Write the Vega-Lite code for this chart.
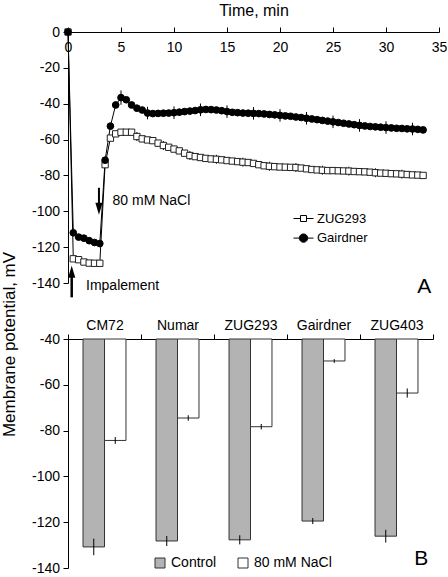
{
  "$schema": "https://vega.github.io/schema/vega-lite/v6.json",
  "padding": {"left": 0, "top": 2, "right": 0, "bottom": 0},
  "bounds": "flush",
  "spacing": 56,
  "resolve": {"scale": {"fill": "independent", "shape": "independent", "stroke": "independent"}, "legend": {"fill": "independent", "shape": "independent", "stroke": "independent"}},
  "datasets": {
    "series": [
      {"series": "ZUG293", "t": 0, "v": 0},
      {"series": "ZUG293", "t": 0.5, "v": -126.5},
      {"series": "ZUG293", "t": 1, "v": -127},
      {"series": "ZUG293", "t": 1.5, "v": -128.3},
      {"series": "ZUG293", "t": 2, "v": -128.9},
      {"series": "ZUG293", "t": 2.5, "v": -129},
      {"series": "ZUG293", "t": 3, "v": -129},
      {"series": "ZUG293", "t": 3.5, "v": -74},
      {"series": "ZUG293", "t": 4, "v": -59.2},
      {"series": "ZUG293", "t": 4.5, "v": -56.8},
      {"series": "ZUG293", "t": 5, "v": -55.9},
      {"series": "ZUG293", "t": 5.5, "v": -55.9},
      {"series": "ZUG293", "t": 6, "v": -55.9},
      {"series": "ZUG293", "t": 6.5, "v": -58.3, "err": 2.5},
      {"series": "ZUG293", "t": 7, "v": -59.6},
      {"series": "ZUG293", "t": 7.5, "v": -60.2},
      {"series": "ZUG293", "t": 8, "v": -60.6},
      {"series": "ZUG293", "t": 8.5, "v": -62},
      {"series": "ZUG293", "t": 9, "v": -63.3, "err": 2.5},
      {"series": "ZUG293", "t": 9.5, "v": -64.3},
      {"series": "ZUG293", "t": 10, "v": -65.3},
      {"series": "ZUG293", "t": 10.5, "v": -66.3},
      {"series": "ZUG293", "t": 11, "v": -67.6},
      {"series": "ZUG293", "t": 11.5, "v": -68.9, "err": 2.5},
      {"series": "ZUG293", "t": 12, "v": -69.5},
      {"series": "ZUG293", "t": 12.5, "v": -70},
      {"series": "ZUG293", "t": 13, "v": -70.5},
      {"series": "ZUG293", "t": 13.5, "v": -70.8},
      {"series": "ZUG293", "t": 14, "v": -71, "err": 2.5},
      {"series": "ZUG293", "t": 14.5, "v": -71.3},
      {"series": "ZUG293", "t": 15, "v": -71.7},
      {"series": "ZUG293", "t": 15.5, "v": -72},
      {"series": "ZUG293", "t": 16, "v": -72.3},
      {"series": "ZUG293", "t": 16.5, "v": -72.6, "err": 2.5},
      {"series": "ZUG293", "t": 17, "v": -72.8},
      {"series": "ZUG293", "t": 17.5, "v": -73.3},
      {"series": "ZUG293", "t": 18, "v": -74},
      {"series": "ZUG293", "t": 18.5, "v": -74.6},
      {"series": "ZUG293", "t": 19, "v": -74.9, "err": 2.5},
      {"series": "ZUG293", "t": 19.5, "v": -75.1},
      {"series": "ZUG293", "t": 20, "v": -75.3},
      {"series": "ZUG293", "t": 20.5, "v": -75.4},
      {"series": "ZUG293", "t": 21, "v": -75.5},
      {"series": "ZUG293", "t": 21.5, "v": -75.6, "err": 2.5},
      {"series": "ZUG293", "t": 22, "v": -75.9},
      {"series": "ZUG293", "t": 22.5, "v": -76.3},
      {"series": "ZUG293", "t": 23, "v": -76.7},
      {"series": "ZUG293", "t": 23.5, "v": -76.9},
      {"series": "ZUG293", "t": 24, "v": -77.1, "err": 2.5},
      {"series": "ZUG293", "t": 24.5, "v": -77.3},
      {"series": "ZUG293", "t": 25, "v": -77.3},
      {"series": "ZUG293", "t": 25.5, "v": -77.4},
      {"series": "ZUG293", "t": 26, "v": -77.5},
      {"series": "ZUG293", "t": 26.5, "v": -77.6, "err": 2.5},
      {"series": "ZUG293", "t": 27, "v": -77.8},
      {"series": "ZUG293", "t": 27.5, "v": -77.9},
      {"series": "ZUG293", "t": 28, "v": -78},
      {"series": "ZUG293", "t": 28.5, "v": -78.2},
      {"series": "ZUG293", "t": 29, "v": -78.5, "err": 2.5},
      {"series": "ZUG293", "t": 29.5, "v": -78.7},
      {"series": "ZUG293", "t": 30, "v": -78.8},
      {"series": "ZUG293", "t": 30.5, "v": -79},
      {"series": "ZUG293", "t": 31, "v": -79.1},
      {"series": "ZUG293", "t": 31.5, "v": -79.3, "err": 2.5},
      {"series": "ZUG293", "t": 32, "v": -79.5},
      {"series": "ZUG293", "t": 32.5, "v": -79.7},
      {"series": "ZUG293", "t": 33, "v": -79.8},
      {"series": "ZUG293", "t": 33.5, "v": -80},
      {"series": "Gairdner", "t": 0, "v": 0},
      {"series": "Gairdner", "t": 0.5, "v": -112},
      {"series": "Gairdner", "t": 1, "v": -114.4},
      {"series": "Gairdner", "t": 1.5, "v": -115},
      {"series": "Gairdner", "t": 2, "v": -116.4},
      {"series": "Gairdner", "t": 2.5, "v": -117.4},
      {"series": "Gairdner", "t": 3, "v": -118},
      {"series": "Gairdner", "t": 3.5, "v": -71.5},
      {"series": "Gairdner", "t": 4, "v": -52.5},
      {"series": "Gairdner", "t": 4.5, "v": -40.7},
      {"series": "Gairdner", "t": 5, "v": -36.6, "err": 4},
      {"series": "Gairdner", "t": 5.5, "v": -37.8},
      {"series": "Gairdner", "t": 6, "v": -40.7},
      {"series": "Gairdner", "t": 6.5, "v": -42.5},
      {"series": "Gairdner", "t": 7, "v": -43.5},
      {"series": "Gairdner", "t": 7.5, "v": -45.2, "err": 3.5},
      {"series": "Gairdner", "t": 8, "v": -45.5},
      {"series": "Gairdner", "t": 8.5, "v": -45.4},
      {"series": "Gairdner", "t": 9, "v": -45.3},
      {"series": "Gairdner", "t": 9.5, "v": -45.2},
      {"series": "Gairdner", "t": 10, "v": -45, "err": 3.5},
      {"series": "Gairdner", "t": 10.5, "v": -44.7},
      {"series": "Gairdner", "t": 11, "v": -44.4},
      {"series": "Gairdner", "t": 11.5, "v": -44.1},
      {"series": "Gairdner", "t": 12, "v": -43.8},
      {"series": "Gairdner", "t": 12.5, "v": -43.4, "err": 3.5},
      {"series": "Gairdner", "t": 13, "v": -43.2},
      {"series": "Gairdner", "t": 13.5, "v": -43.3},
      {"series": "Gairdner", "t": 14, "v": -43.5},
      {"series": "Gairdner", "t": 14.5, "v": -43.9},
      {"series": "Gairdner", "t": 15, "v": -44.4, "err": 3.5},
      {"series": "Gairdner", "t": 15.5, "v": -44.8},
      {"series": "Gairdner", "t": 16, "v": -45},
      {"series": "Gairdner", "t": 16.5, "v": -45.2},
      {"series": "Gairdner", "t": 17, "v": -45.3},
      {"series": "Gairdner", "t": 17.5, "v": -45.4, "err": 3.5},
      {"series": "Gairdner", "t": 18, "v": -45.5},
      {"series": "Gairdner", "t": 18.5, "v": -45.7},
      {"series": "Gairdner", "t": 19, "v": -46},
      {"series": "Gairdner", "t": 19.5, "v": -46.2},
      {"series": "Gairdner", "t": 20, "v": -46.5, "err": 3.5},
      {"series": "Gairdner", "t": 20.5, "v": -46.8},
      {"series": "Gairdner", "t": 21, "v": -47},
      {"series": "Gairdner", "t": 21.5, "v": -47.4},
      {"series": "Gairdner", "t": 22, "v": -47.7},
      {"series": "Gairdner", "t": 22.5, "v": -48.1, "err": 3.5},
      {"series": "Gairdner", "t": 23, "v": -48.5},
      {"series": "Gairdner", "t": 23.5, "v": -48.9},
      {"series": "Gairdner", "t": 24, "v": -49.3},
      {"series": "Gairdner", "t": 24.5, "v": -49.7},
      {"series": "Gairdner", "t": 25, "v": -50.1, "err": 3.5},
      {"series": "Gairdner", "t": 25.5, "v": -50.5},
      {"series": "Gairdner", "t": 26, "v": -50.9},
      {"series": "Gairdner", "t": 26.5, "v": -51.3},
      {"series": "Gairdner", "t": 27, "v": -51.7},
      {"series": "Gairdner", "t": 27.5, "v": -52.1, "err": 3.5},
      {"series": "Gairdner", "t": 28, "v": -52.4},
      {"series": "Gairdner", "t": 28.5, "v": -52.7},
      {"series": "Gairdner", "t": 29, "v": -52.9},
      {"series": "Gairdner", "t": 29.5, "v": -53.1},
      {"series": "Gairdner", "t": 30, "v": -53.3, "err": 3.5},
      {"series": "Gairdner", "t": 30.5, "v": -53.5},
      {"series": "Gairdner", "t": 31, "v": -53.7},
      {"series": "Gairdner", "t": 31.5, "v": -53.8},
      {"series": "Gairdner", "t": 32, "v": -54},
      {"series": "Gairdner", "t": 32.5, "v": -54.1, "err": 3.5},
      {"series": "Gairdner", "t": 33, "v": -54.3},
      {"series": "Gairdner", "t": 33.5, "v": -54.6}
    ],
    "bars": [
      {"cultivar": "CM72", "treatment": "Control", "mean": -130.8, "err": 3.6},
      {"cultivar": "CM72", "treatment": "80 mM NaCl", "mean": -84.3, "err": 1.5},
      {"cultivar": "Numar", "treatment": "Control", "mean": -128.2, "err": 2.2},
      {"cultivar": "Numar", "treatment": "80 mM NaCl", "mean": -74.5, "err": 1.2},
      {"cultivar": "ZUG293", "treatment": "Control", "mean": -127.7, "err": 2},
      {"cultivar": "ZUG293", "treatment": "80 mM NaCl", "mean": -78.3, "err": 1.2},
      {"cultivar": "Gairdner", "treatment": "Control", "mean": -119.5, "err": 1.3},
      {"cultivar": "Gairdner", "treatment": "80 mM NaCl", "mean": -49.6, "err": 0.8},
      {"cultivar": "ZUG403", "treatment": "Control", "mean": -126.1, "err": 2.8},
      {"cultivar": "ZUG403", "treatment": "80 mM NaCl", "mean": -63.6, "err": 2}
    ]
  },
  "vconcat": [
    {
      "width": 371,
      "height": 251,
      "data": {"name": "series"},
      "encoding": {
        "x": {
          "field": "t", "type": "quantitative",
          "scale": {"domain": [0, 35], "nice": false},
          "axis": {
            "orient": "top", "values": [0, 5, 10, 15, 20, 25, 30, 35],
            "title": "Time, min", "titleFontSize": 16, "titlePadding": 8,
            "labelBaseline": "top", "labelPadding": -13, "labelFlush": false,
            "labelOverlap": false
          }
        },
        "y": {
          "field": "v", "type": "quantitative",
          "scale": {"domain": [-140, 0], "nice": false},
          "axis": {
            "values": [-140, -120, -100, -80, -60, -40, -20, 0],
            "labelExpr": "datum.value < 0 ? '-' + abs(datum.value) : '' + datum.value",
            "title": "Membrane potential, mV", "titleFontSize": 17,
            "titleY": 312, "titleX": -50, "labelPadding": 3.5,
            "labelOverlap": false
          }
        }
      },
      "layer": [
        {
          "mark": {"type": "line", "color": "black", "strokeWidth": 1},
          "encoding": {"detail": {"field": "series", "type": "nominal"}}
        },
        {
          "transform": [{"filter": "datum.err != null"}],
          "mark": {"type": "errorbar", "color": "black", "thickness": 1},
          "encoding": {"yError": {"field": "err"}, "detail": {"field": "series", "type": "nominal"}}
        },
        {
          "transform": [{"filter": "datum.series === 'ZUG293'"}],
          "mark": {"type": "point", "shape": "square", "filled": true, "fill": "white", "opacity": 1, "stroke": "#222222", "strokeWidth": 1, "size": 40}
        },
        {
          "transform": [{"filter": "datum.series === 'Gairdner'"}],
          "mark": {"type": "point", "shape": "circle", "filled": true, "fill": "black", "opacity": 1, "stroke": "black", "strokeWidth": 1, "size": 45}
        },
        {
          "mark": {"type": "point", "filled": false, "opacity": 0, "strokeWidth": 1},
          "encoding": {
            "shape": {
              "field": "series", "type": "nominal",
              "scale": {"domain": ["ZUG293", "Gairdner"], "range": ["M-1,0L-0.3,0M0.3,0L1,0M-0.3,-0.3L0.3,-0.3L0.3,0.3L-0.3,0.3Z", "M-1,0L-0.42,0M0.42,0L1,0M-0.42,0A0.42,0.42,0,1,0,0.42,0A0.42,0.42,0,1,0,-0.42,0Z"]},
              "legend": {
                "title": null, "orient": "none", "legendX": 225, "legendY": 176,
                "symbolSize": 400, "symbolOpacity": 1, "symbolStrokeWidth": 1,
                "labelFontSize": 13, "labelOffset": 3, "rowPadding": 1.6
              }
            },
            "fill": {
              "field": "series", "type": "nominal",
              "scale": {"domain": ["ZUG293", "Gairdner"], "range": ["white", "black"]},
              "legend": {
                "title": null, "orient": "none", "legendX": 225, "legendY": 176,
                "symbolSize": 400, "symbolOpacity": 1, "symbolStrokeWidth": 1,
                "labelFontSize": 13, "labelOffset": 3, "rowPadding": 1.6
              }
            },
            "stroke": {
              "field": "series", "type": "nominal",
              "scale": {"domain": ["ZUG293", "Gairdner"], "range": ["black", "black"]},
              "legend": {
                "title": null, "orient": "none", "legendX": 225, "legendY": 176,
                "symbolSize": 400, "symbolOpacity": 1, "symbolStrokeWidth": 1,
                "labelFontSize": 13, "labelOffset": 3, "rowPadding": 1.6
              }
            }
          }
        },
        {
          "data": {"values": [{"t": 2.92, "v": -86.9, "v2": -96}]},
          "mark": {"type": "rule", "color": "black", "strokeWidth": 2},
          "encoding": {"y2": {"field": "v2"}}
        },
        {
          "data": {"values": [{"t": 2.92, "v": -98.6}]},
          "mark": {"type": "point", "filled": true, "color": "black", "opacity": 1, "size": 144, "shape": "M-0.6,-1L0.6,-1L0,1Z"}
        },
        {
          "data": {"values": [{"t": 0.35, "v": -136, "v2": -148}]},
          "mark": {"type": "rule", "color": "black", "strokeWidth": 2.5},
          "encoding": {"y2": {"field": "v2"}}
        },
        {
          "data": {"values": [{"t": 0.35, "v": -133.7}]},
          "mark": {"type": "point", "filled": true, "color": "black", "opacity": 1, "size": 144, "shape": "M-0.6,1L0.6,1L0,-1Z"}
        },
        {
          "data": {"values": [{"label": "80 mM NaCl", "t": 4.2, "v": -94.2}, {"label": "Impalement", "t": 1.7, "v": -141.5}]},
          "mark": {"type": "text", "align": "left", "baseline": "middle", "fontSize": 14},
          "encoding": {"text": {"field": "label"}}
        },
        {
          "data": {"values": [{"label": "A", "t": 33.6, "v": -145.4}]},
          "mark": {"type": "text", "align": "center", "baseline": "alphabetic", "fontSize": 21},
          "encoding": {"text": {"field": "label"}}
        }
      ]
    },
    {
      "width": 365,
      "height": 229,
      "layer": [
        {
          "data": {"name": "bars"},
          "encoding": {
            "x": {
              "field": "cultivar", "type": "nominal",
              "scale": {"domain": ["CM72", "Numar", "ZUG293", "Gairdner", "ZUG403"], "paddingInner": 0, "paddingOuter": 0},
              "axis": {"orient": "top", "title": null, "tickBand": "extent", "labelAngle": 0, "labelPadding": 2, "labelFontSize": 14}
            },
            "y": {
              "field": "mean", "type": "quantitative",
              "scale": {"domain": [-140, -40], "nice": false},
              "axis": {
                "values": [-140, -120, -100, -80, -60, -40],
                "labelExpr": "datum.value < 0 ? '-' + abs(datum.value) : '' + datum.value",
                "title": null, "labelPadding": 3.5, "labelOverlap": false
              }
            },
            "xOffset": {"field": "treatment", "type": "nominal", "scale": {"domain": ["Control", "80 mM NaCl"], "paddingOuter": 0.7, "paddingInner": 0}}
          },
          "layer": [
            {
              "mark": {"type": "bar", "stroke": "#333333", "strokeWidth": 1},
              "encoding": {
                "y2": {"datum": -40},
                "fill": {
                  "field": "treatment", "type": "nominal",
                  "scale": {"domain": ["Control", "80 mM NaCl"], "range": ["#b3b3b3", "white"]},
                  "legend": {
                    "title": null, "orient": "none", "direction": "horizontal",
                    "legendX": 85, "legendY": 217,
                    "symbolType": "square", "symbolSize": 100, "symbolStrokeColor": "#333333", "symbolStrokeWidth": 1,
                    "labelFontSize": 14, "labelOffset": 4, "columnPadding": 19
                  }
                }
              }
            },
            {
              "mark": {"type": "errorbar", "color": "black", "thickness": 1},
              "encoding": {"yError": {"field": "err"}}
            }
          ]
        },
        {
          "data": {"values": [{}]},
          "mark": {"type": "text", "text": "B", "align": "center", "baseline": "alphabetic", "fontSize": 21},
          "encoding": {"x": {"datum": "ZUG403", "bandPosition": 0.84}, "y": {"datum": -138.6}}
        }
      ]
    }
  ],
  "config": {
    "view": {"stroke": null},
    "font": "Liberation Sans",
    "axis": {
      "domainColor": "black", "tickColor": "black", "labelColor": "black", "titleColor": "black",
      "labelFont": "Liberation Sans", "titleFont": "Liberation Sans", "labelFontSize": 14,
      "titleFontWeight": "normal", "grid": false, "tickSize": 5, "labelOverlap": false
    },
    "legend": {"labelFont": "Liberation Sans", "labelColor": "black"},
    "text": {"font": "Liberation Sans", "color": "black"}
  }
}
